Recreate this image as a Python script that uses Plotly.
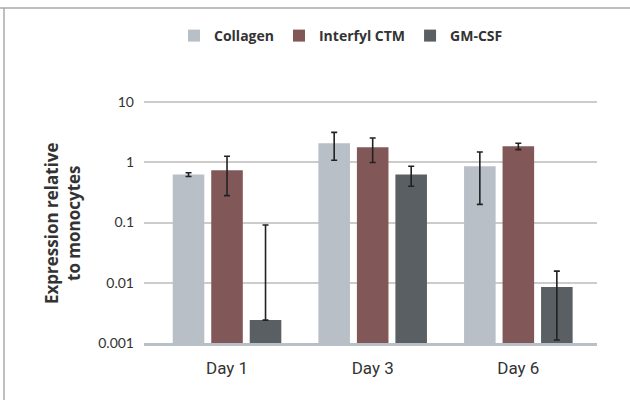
import plotly.graph_objects as go

days = ["Day 1", "Day 3", "Day 6"]
series_names = ["Collagen", "Interfyl CTM", "GM-CSF"]
colors = ["#b8bfc6", "#825757", "#5a5f63"]

collagen = [0.63, 2.07, 0.86]
collagen_hi = [0.67, 3.14, 1.48]
collagen_lo = [0.58, 1.08, 0.20]

interfyl = [0.74, 1.77, 1.84]
interfyl_hi = [1.26, 2.53, 2.07]
interfyl_lo = [0.28, 0.99, 1.62]

gmcsf = [0.0024, 0.63, 0.0085]
gmcsf_hi = [0.091, 0.86, 0.0156]
gmcsf_lo = [0.0024, 0.40, 0.00112]

y_tickvals = [0.001, 0.01, 0.1, 1, 10]
y_ticktext = ["0.001", "0.01", "0.1", "1", "10"]
y_title = "Expression relative<br>to monocytes"

W, H = 630, 400
L, R, T, B = 144, 33, 87, 57
PW, PH = W - L - R, H - T - B

fig = go.Figure()
for name, col, vals, hi, lo in [
    (series_names[0], colors[0], collagen, collagen_hi, collagen_lo),
    (series_names[1], colors[1], interfyl, interfyl_hi, interfyl_lo),
    (series_names[2], colors[2], gmcsf, gmcsf_hi, gmcsf_lo),
]:
    fig.add_trace(go.Bar(
        x=days, y=vals, name=name, marker=dict(color=col, line=dict(width=0)),
        error_y=dict(type="data", symmetric=False,
                     array=[h - v for h, v in zip(hi, vals)],
                     arrayminus=[v - l for v, l in zip(vals, lo)],
                     color="#222222", thickness=1.6, width=3),
    ))

fig.update_layout(
    width=W, height=H,
    margin=dict(l=L, r=R, t=T, b=B),
    paper_bgcolor="white", plot_bgcolor="white",
    barmode="group", bargap=0.207, bargroupgap=0.18,
    font=dict(family="Lato", color="#333333"),
    showlegend=True,
    legend=dict(orientation="h", x=(174 - L) / PW, xanchor="left",
                y=(H - B - 36) / PH, yanchor="middle",
                font=dict(family="Open Sans", size=14, color="#333333", weight="bold"),
                itemwidth=30, traceorder="normal", bgcolor="rgba(0,0,0,0)"),
    xaxis=dict(type="category", range=[-0.57, 2.54], showgrid=False,
               showline=True, linecolor="#b8bfc6", linewidth=3,
               ticks="", tickfont=dict(family="Roboto", size=17, color="#333333"),
               ticklabelstandoff=8),
    yaxis=dict(type="log", range=[-3, 1.25], tickvals=y_tickvals, ticktext=y_ticktext,
               showgrid=True, gridcolor="#cccccc", gridwidth=1.5, zeroline=False,
               ticks="", ticklabelstandoff=9,
               tickfont=dict(family="Lato", size=14, color="#333333")),
    annotations=[
        dict(text=y_title, textangle=-90, showarrow=False,
             xref="paper", yref="paper", x=-(L - 62) / PW, y=(H - B - 223) / PH,
             xanchor="center", yanchor="middle", align="center",
             font=dict(family="Open Sans", size=17, color="#333333", weight="bold")),
    ],
    shapes=[
        dict(type="line", xref="paper", yref="paper", x0=-L / PW, x1=(W - L) / PW,
             y0=(H - B - 8) / PH, y1=(H - B - 8) / PH, line=dict(color="#aaaaaa", width=1.5)),
        dict(type="line", xref="paper", yref="paper", x0=-(L - 4) / PW, x1=-(L - 4) / PW,
             y0=-B / PH, y1=(H - B - 8) / PH, line=dict(color="#aaaaaa", width=1.5)),
    ],
)

fig.write_html("out.html", config={"displayModeBar": False},
               post_script="document.body.style.margin='0';document.body.style.padding='0';")
